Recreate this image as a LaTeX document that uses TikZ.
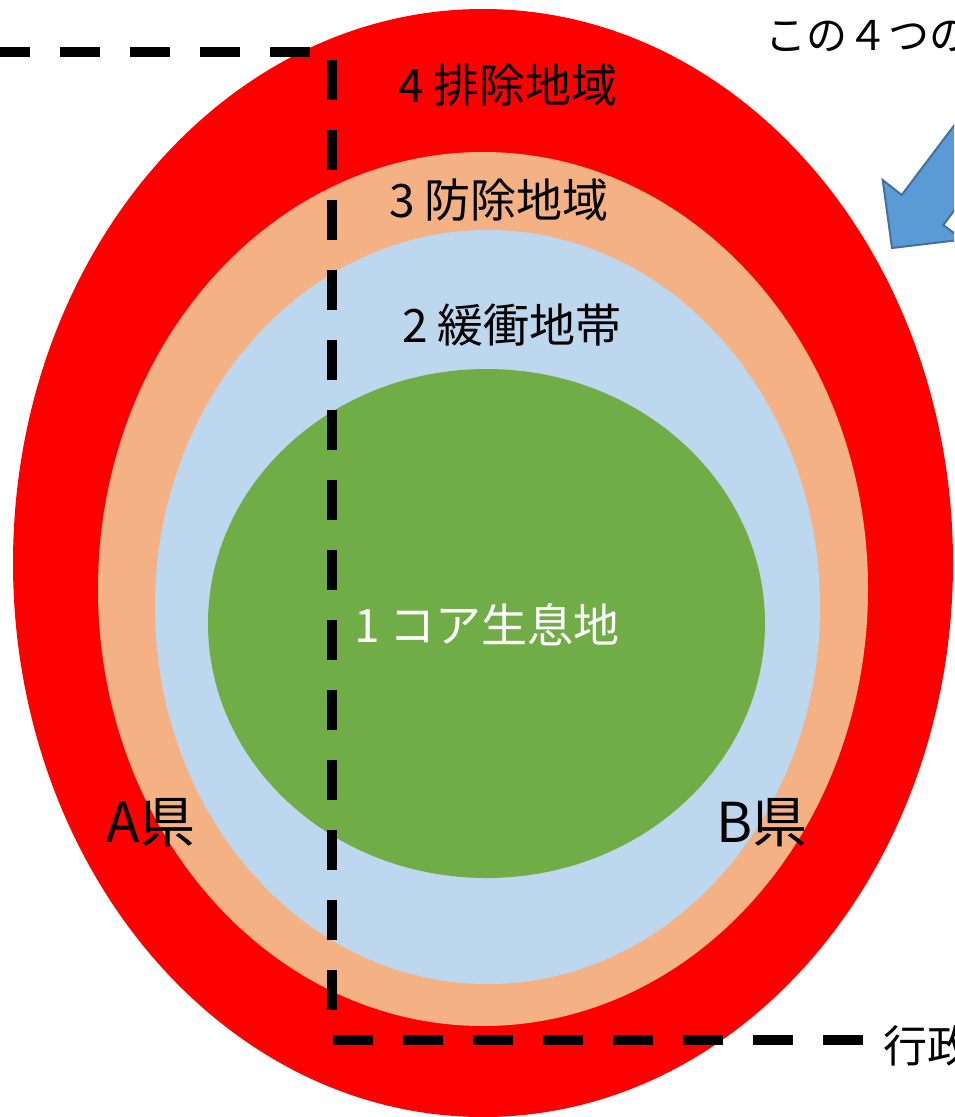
\documentclass[tikz,border=0pt]{standalone}
\usepackage{fontspec}
\newfontfamily\jp{Noto Sans CJK JP}
\definecolor{zred}{HTML}{FF0000}
\definecolor{zpeach}{HTML}{F4B183}
\definecolor{zblue}{HTML}{BDD7EE}
\definecolor{zgreen}{HTML}{70AD47}
\definecolor{arrfill}{HTML}{5B9BD5}
\definecolor{arrline}{HTML}{41719C}
\tikzset{
  zonelabel/.style={inner sep=0pt, font=\jp\fontsize{46}{50}\selectfont, text=black},
  preflabel/.style={inner sep=0pt, font=\jp\fontsize{55}{60}\selectfont, text=black},
  notelabel/.style={inner sep=0pt, anchor=west, font=\jp\fontsize{41}{46}\selectfont, text=black},
  boundary/.style={line width=10pt, dash pattern=on 40pt off 30pt},
  blockarrow/.style={fill=arrfill, draw=arrline, line width=2pt, line join=miter}
}
\begin{document}
\begin{tikzpicture}[x=1pt,y=-1pt]
\useasboundingbox (0,0) rectangle (954,1117);
\clip (0,0) rectangle (954,1117);
\fill[white] (0,0) rectangle (954,1117);
% zones
\fill[zred] (483,563) ellipse [x radius=470, y radius=554];
\fill[zpeach] (483,589) ellipse [x radius=385, y radius=437];
\fill[zblue] (487.5,607) ellipse [x radius=332.5, y radius=377];
\fill[zgreen] (486.5,623.5) ellipse [x radius=278.5, y radius=254.5];
% administrative boundary
\coordinate (b1) at (-10,52);
\coordinate (b2) at (310,52);
\coordinate (v1) at (332,60);
\coordinate (v2) at (332,1010);
\coordinate (h1) at (333,1040);
\coordinate (h2) at (863,1040);
\draw[boundary] (b2) -- (b1);
\draw[boundary] (v1) -- (v2);
\draw[boundary] (h1) -- (h2);
% arrow
\filldraw[blockarrow] (892,248) -- (882.7,180) -- (901.7,195) -- (998,67.3)
  -- (1039.6,97.3) -- (943.3,225) -- (962.6,239.6) -- cycle;
% labels
\node[zonelabel] (z4) at (508,85) {4 排除地域};
\node[zonelabel] (z3) at (499,200) {3 防除地域};
\node[zonelabel] (z2) at (512,325) {2 緩衝地帯};
\node[zonelabel, text=white] (z1) at (487,625) {1 コア生息地};
\node[preflabel] (pa) at (151,823) {A県};
\node[preflabel] (pb) at (762,823) {B県};
\node[notelabel] (note) at (765,36) {この４つの};
\node[notelabel, font=\jp\fontsize{44}{48}\selectfont] (gyosei) at (883,1046) {行政};
\end{tikzpicture}
\end{document}
